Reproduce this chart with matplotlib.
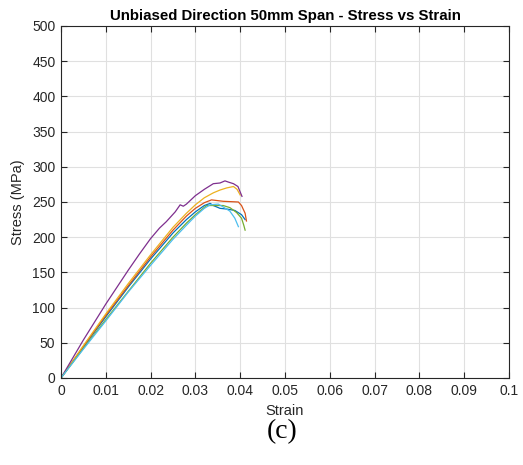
import numpy as np
import matplotlib.pyplot as plt

# -------------------------
# Data
# -------------------------
blue_strain = [0, 0.005, 0.010, 0.015, 0.020, 0.025, 0.028, 0.030, 0.032, 0.0333, 0.034,
               0.0355, 0.037, 0.0388, 0.0403, 0.0411]
blue_stress = [0, 44, 87, 129, 169, 206, 225, 236, 245, 248, 245, 241, 240, 238, 232, 225]

orange_strain = [0, 0.005, 0.010, 0.015, 0.020, 0.025, 0.028, 0.030, 0.032, 0.0336, 0.0362,
                 0.0396, 0.0403, 0.0411, 0.0414]
orange_stress = [0, 45, 89, 131, 172, 210, 230, 241, 249, 253, 251, 250, 245, 234, 223]

yellow_strain = [0, 0.005, 0.010, 0.015, 0.020, 0.025, 0.028, 0.030, 0.032, 0.034, 0.0355,
                 0.037, 0.0385, 0.0393, 0.040]
yellow_stress = [0, 46, 91, 134, 175, 214, 234, 246, 256, 263, 267, 270, 272, 268, 260]

purple_strain = [0, 0.005, 0.010, 0.015, 0.0175, 0.020, 0.022, 0.0235, 0.0255, 0.0266, 0.0273,
                 0.028, 0.030, 0.032, 0.034, 0.0355, 0.0366, 0.0375, 0.0385, 0.0395, 0.0404]
purple_stress = [0, 54, 105, 153, 176, 198, 213, 222, 236, 246, 244, 247, 259, 268, 276, 277,
                 280, 278, 276, 272, 258]

green_strain = [0, 0.005, 0.010, 0.015, 0.020, 0.025, 0.028, 0.030, 0.0325, 0.0362, 0.0377,
                0.0392, 0.0403, 0.0408, 0.0411]
green_stress = [0, 42, 83, 123, 163, 200, 220, 232, 245, 245, 242, 235, 227, 217, 210]

cyan_strain = [0, 0.005, 0.010, 0.015, 0.020, 0.025, 0.028, 0.030, 0.032, 0.0333, 0.0351,
               0.0362, 0.0377, 0.0388, 0.0396]
cyan_stress = [0, 41, 81, 122, 160, 197, 217, 230, 241, 246, 247, 243, 237, 227, 215]

series = [
    (blue_strain, blue_stress, '#0072BD'),
    (orange_strain, orange_stress, '#D95319'),
    (yellow_strain, yellow_stress, '#EDB120'),
    (purple_strain, purple_stress, '#7E2F8E'),
    (green_strain, green_stress, '#77AC30'),
    (cyan_strain, cyan_stress, '#4DBEEE'),
]

x_ticks = [0, 0.01, 0.02, 0.03, 0.04, 0.05, 0.06, 0.07, 0.08, 0.09, 0.1]
x_labels = ['0', '0.01', '0.02', '0.03', '0.04', '0.05', '0.06', '0.07', '0.08', '0.09', '0.1']
y_ticks = list(range(0, 501, 50))

# -------------------------
# Plot
# -------------------------
plt.rcParams['font.family'] = ['Liberation Sans', 'DejaVu Sans']

fig = plt.figure(figsize=(5.23, 4.65), dpi=100)
ax = fig.add_axes([0.1166, 0.1871, 0.8566, 0.7570])

for sx, sy, c in series:
    ax.plot(sx, sy, color=c, linewidth=0.9)

ax.set_xlim(0, 0.1)
ax.set_ylim(0, 500)
ax.set_xticks(x_ticks)
ax.set_xticklabels(x_labels)
ax.set_yticks(y_ticks)

ax.grid(True, color='#e0e0e0', linewidth=0.8)
ax.set_axisbelow(True)
ax.tick_params(direction='in', top=True, right=True, length=4.5, width=0.8,
               labelsize=10, colors='#262626', pad=4)
for s in ax.spines.values():
    s.set_color('#262626')
    s.set_linewidth(0.8)

ax.set_title('Unbiased Direction 50mm Span - Stress vs Strain', fontsize=10.8,
             fontweight='bold', color='black', pad=4)
ax.set_xlabel('Strain', fontsize=10.5, color='#262626', labelpad=5)
ax.set_ylabel('Stress (MPa)', fontsize=10.5, color='#262626', labelpad=5)

fig.text(0.539, 0.072, '(c)', fontsize=20, family=['Liberation Serif', 'DejaVu Serif'],
         ha='center', va='center')

fig.savefig('out.png', dpi=100)
